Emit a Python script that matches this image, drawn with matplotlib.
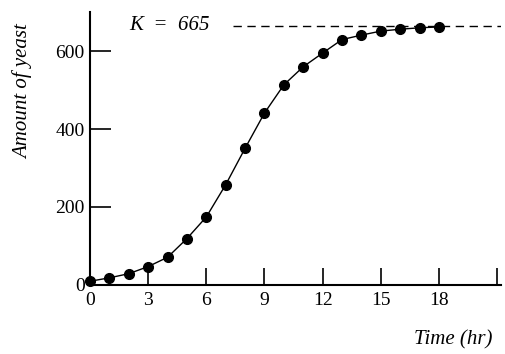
import matplotlib
matplotlib.use("Agg")
import matplotlib.pyplot as plt

# yeast culture, amount vs time (hours)
hours = [0, 1, 2, 3, 4, 5, 6, 7, 8, 9, 10, 11, 12, 13, 14, 15, 16, 17, 18]
yeast = [9.6, 18.3, 29.0, 47.2, 71.1, 119.1, 174.6, 257.3, 350.7, 441.0,
         513.3, 559.7, 594.8, 629.4, 640.8, 651.1, 655.9, 659.6, 661.8]
K = 665

x_ticks = [0, 3, 6, 9, 12, 15, 18, 21]
x_labels = ["0", "3", "6", "9", "12", "15", "18", ""]
y_ticks = [0, 200, 400, 600]
y_labels = ["0", "200", "400", "600"]

plt.rcParams["font.family"] = ["Liberation Serif", "DejaVu Serif"]

fig = plt.figure(figsize=(5.06, 3.54), dpi=100)
ax = fig.add_axes([0.178, 0.195, 0.812, 0.771])

ax.plot(hours, yeast, color="black", lw=1.0, zorder=2)
ax.plot(hours, yeast, "o", color="black", ms=7, zorder=3, clip_on=False)

# carrying capacity line
ax.plot([7.4, 21.2], [K, K], color="black", lw=1.0, ls=(0, (6, 4)))
ax.text(2.0, K, "K  =  665", fontsize=15, style="italic", va="center", ha="left")

ax.set_xlim(0, 21.2)
ax.set_ylim(0, 700)
ax.set_xticks(x_ticks)
ax.set_xticklabels(x_labels, fontsize=14)
ax.set_yticks(y_ticks)
ax.set_yticklabels(y_labels, fontsize=14)
ax.tick_params(axis="x", direction="in", length=12, width=1.2, pad=5)
ax.tick_params(axis="y", direction="in", length=15, width=1.2, pad=4)

for side in ["top", "right"]:
    ax.spines[side].set_visible(False)
for side in ["left", "bottom"]:
    ax.spines[side].set_linewidth(1.5)

fig.text(0.045, 0.74, "Amount of yeast", rotation=90, style="italic",
         fontsize=15, ha="center", va="center")
fig.text(0.895, 0.04, "Time (hr)", style="italic", fontsize=15,
         ha="center", va="center")

fig.savefig("out.png", dpi=100)
